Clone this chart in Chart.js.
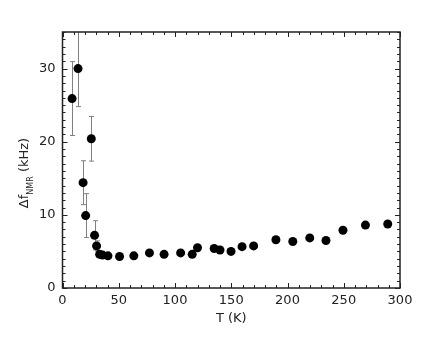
<!DOCTYPE html>
<html>
<head>
<meta charset="utf-8">
<script src="https://cdn.jsdelivr.net/npm/chart.js@4"></script>
<style>
  html, body { margin: 0; padding: 0; background: #fff; }
  #wrap { width: 443px; height: 342px; }
</style>
</head>
<body>
<div id="wrap"><canvas id="nmr-chart"></canvas></div>
<script>
// temperature (K), linewidth (kHz) and error bar half-heights
var temps = [8.5, 13.8, 18.3, 20.6, 25.6, 28.5, 30.3, 33, 35.6, 40.4, 50.7, 63.4, 77.3, 90.3, 105,
  115.3, 120, 134.8, 140, 149.8, 159.6, 169.9, 189.7, 204.7, 219.8, 234.2, 249.3, 269.3, 289.1];
var widths = [25.9, 30.0, 14.4, 9.9, 20.4, 7.2, 5.75, 4.6, 4.5, 4.4, 4.3, 4.4, 4.8, 4.6, 4.8,
  4.6, 5.5, 5.4, 5.2, 5.0, 5.65, 5.75, 6.6, 6.35, 6.85, 6.5, 7.9, 8.6, 8.75];
var errors = [5.05, 5.2, 3.0, 3.0, 3.05, 2.0, 0.7, 0, 0, 0, 0, 0, 0, 0, 0,
  0, 0, 0, 0, 0, 0, 0, 0, 0, 0, 0, 0, 0, 0];
var xTicks = [0, 50, 100, 150, 200, 250, 300];
var yTicks = [0, 10, 20, 30];

var points = temps.map(function(t, i) {
  return { x: t, y: widths[i] };
});

// error bars, drawn under the markers
var errorBars = {
  id: "errorBars",
  beforeDatasetsDraw: function(chart) {
    var ctx = chart.ctx, xs = chart.scales.x, ys = chart.scales.y, a = chart.chartArea;
    ctx.save();
    ctx.beginPath();
    ctx.rect(a.left, a.top, a.right - a.left, a.bottom - a.top);
    ctx.clip();
    ctx.strokeStyle = "#808080";
    ctx.lineWidth = 1;
    temps.forEach(function(t, i) {
      if (!errors[i]) return;
      var px = Math.round(xs.getPixelForValue(t)) + 0.5;
      var top = ys.getPixelForValue(widths[i] + errors[i]);
      var bot = ys.getPixelForValue(widths[i] - errors[i]);
      ctx.beginPath();
      ctx.moveTo(px, top); ctx.lineTo(px, bot);
      ctx.moveTo(px - 2.5, top); ctx.lineTo(px + 2.5, top);
      ctx.moveTo(px - 2.5, bot); ctx.lineTo(px + 2.5, bot);
      ctx.stroke();
    });
    ctx.restore();
  }
};

// box frame with inward ticks, and axis titles
var frame = {
  id: "frame",
  afterDraw: function(chart) {
    var ctx = chart.ctx, xs = chart.scales.x, ys = chart.scales.y, a = chart.chartArea;
    ctx.save();
    ctx.strokeStyle = "#222";
    ctx.lineWidth = 1.5;
    ctx.strokeRect(a.left, a.top, a.right - a.left, a.bottom - a.top);
    ctx.lineWidth = 1;
    ctx.beginPath();
    for (var v = 0; v <= 300; v += 10) {
      var px = Math.round(xs.getPixelForValue(v)) + 0.5;
      var len = v % 50 === 0 ? 5 : 3;
      ctx.moveTo(px, a.bottom); ctx.lineTo(px, a.bottom - len);
      ctx.moveTo(px, a.top); ctx.lineTo(px, a.top + len);
    }
    for (var w = 0; w <= 35; w += 1) {
      var py = Math.round(ys.getPixelForValue(w)) + 0.5;
      var l2 = w % 10 === 0 ? 5 : 3;
      ctx.moveTo(a.left, py); ctx.lineTo(a.left + l2, py);
      ctx.moveTo(a.right, py); ctx.lineTo(a.right - l2, py);
    }
    ctx.stroke();

    ctx.fillStyle = "#222";
    ctx.textBaseline = "alphabetic";
    ctx.font = "13px 'DejaVu Sans'";
    ctx.textAlign = "center";
    ctx.fillText("T (K)", (a.left + a.right) / 2, 322);

    // y title with subscript
    var big = "13px 'DejaVu Sans'", small = "8px 'DejaVu Sans'";
    ctx.font = big;
    var w1 = ctx.measureText("\u0394f").width;
    var w3 = ctx.measureText(" (kHz)").width;
    ctx.font = small;
    var w2 = ctx.measureText("NMR").width;
    var total = w1 + w2 + w3;
    ctx.translate(28, 173);
    ctx.rotate(-Math.PI / 2);
    ctx.textAlign = "left";
    var sx = -total / 2;
    ctx.font = big;
    ctx.fillText("\u0394f", sx, 0);
    ctx.font = small;
    ctx.fillText("NMR", sx + w1, 5);
    ctx.font = big;
    ctx.fillText(" (kHz)", sx + w1 + w2, 0);
    ctx.restore();
  }
};

new Chart(document.getElementById("nmr-chart"), {
  type: "scatter",
  data: {
    datasets: [{
      data: points,
      backgroundColor: "#000",
      borderColor: "#000",
      borderWidth: 0,
      pointRadius: 4.5,
      pointHoverRadius: 4.5
    }]
  },
  options: {
    responsive: true,
    maintainAspectRatio: false,
    animation: false,
    events: [],
    layout: { padding: { left: 0, right: 43, top: 32, bottom: 0 } },
    plugins: { legend: { display: false }, tooltip: { enabled: false } },
    scales: {
      x: {
        type: "linear",
        min: 0,
        max: 300,
        grid: { display: false, drawTicks: false },
        border: { display: false },
        afterBuildTicks: function(s) { s.ticks = xTicks.map(function(v) { return { value: v }; }); },
        afterFit: function(s) { s.height = 54; },
        ticks: { color: "#222", padding: 5, maxRotation: 0, font: { family: "DejaVu Sans", size: 13 } }
      },
      y: {
        min: 0,
        max: 35,
        grid: { display: false, drawTicks: false },
        border: { display: false },
        afterBuildTicks: function(s) { s.ticks = yTicks.map(function(v) { return { value: v }; }); },
        afterFit: function(s) { s.width = 62.5; },
        ticks: { color: "#222", padding: 7, font: { family: "DejaVu Sans", size: 13 } }
      }
    }
  },
  plugins: [errorBars, frame]
});
</script>
</body>
</html>
